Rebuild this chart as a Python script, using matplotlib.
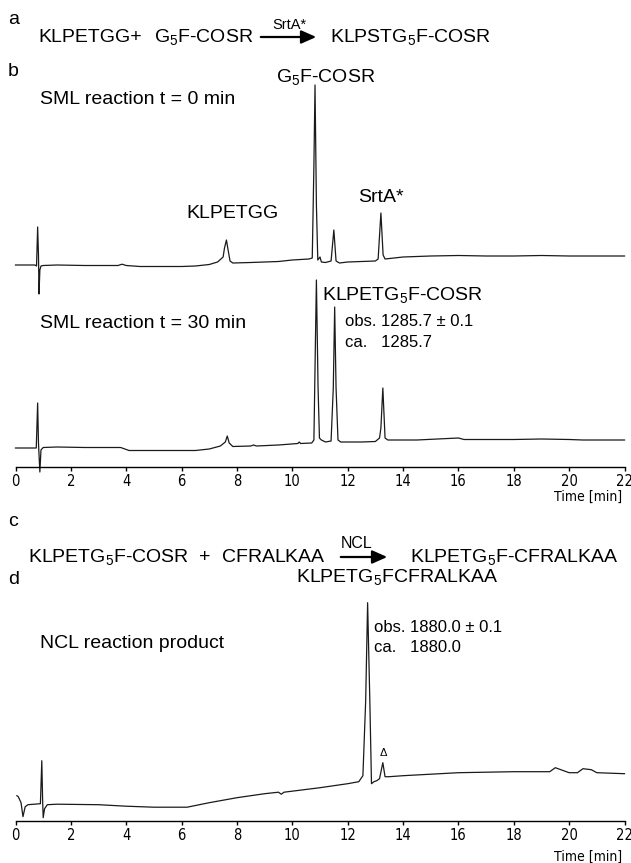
import matplotlib
matplotlib.use("Agg")
import matplotlib.pyplot as plt

plt.rcParams['font.family'] = ['Liberation Sans', 'DejaVu Sans']
plt.rcParams['mathtext.fontset'] = 'custom'
plt.rcParams['mathtext.rm'] = 'Liberation Sans'
plt.rcParams['mathtext.it'] = 'Liberation Sans'

W, H = 631, 863

# chromatogram b, t = 0 min (signal, arbitrary units)
t0_time = [0.0, 0.7, 0.76, 0.8, 0.83, 0.85, 0.88, 0.92, 1.0, 1.5, 2.5, 3.7, 3.85, 4.0,
           4.5, 6.0, 6.5, 7.0, 7.3, 7.5, 7.55, 7.62, 7.68, 7.75, 7.85, 8.5, 9.0, 9.5,
           10.0, 10.3, 10.6, 10.72, 10.78, 10.82, 10.87, 10.92, 11.0, 11.05, 11.2, 11.4,
           11.5, 11.58, 11.7, 12.0, 13.0, 13.1, 13.2, 13.28, 13.35, 14.0, 15.0, 16.0,
           17.0, 18.0, 19.0, 20.0, 21.0, 22.0]
t0_signal = [0, 0, -1, 38, 10, -29, -5, -1, -0.5, 0, -0.5, -0.5, 0.8, -0.5,
             -1.5, -1.5, -1, 0.5, 3, 8, 17, 25, 15, 4, 2, 2.5, 3, 3.5,
             5, 5.5, 6, 7, 100, 180, 60, 5, 8, 3, 2.5, 4,
             35, 4, 2, 3, 4, 6, 52, 10, 6, 8, 9, 9.5,
             9, 9, 9.5, 9, 9, 9]

# chromatogram b, t = 30 min
t30_time = [0.0, 0.75, 0.8, 0.83, 0.88, 0.92, 1.0, 1.5, 2.5, 3.8, 4.1, 6.5, 7.0, 7.4,
            7.58, 7.65, 7.72, 7.85, 8.5, 8.6, 8.7, 9.5, 10.2, 10.25, 10.3, 10.7, 10.78,
            10.82, 10.87, 10.93, 10.98, 11.05, 11.2, 11.4, 11.48, 11.53, 11.58, 11.65,
            11.75, 12.5, 13.0, 13.15, 13.2, 13.27, 13.35, 13.45, 14.5, 16.0, 16.2, 18.0,
            19.0, 20.0, 20.5, 22.0]
t30_signal = [0, 0, 45, 5, -24, -2, 0.5, 1, 0.5, 0.5, -2.5, -2.5, -1, 2,
              6, 12, 5, 1.5, 2, 3, 2, 3, 4.5, 6, 4.5, 5, 8,
              80, 168, 60, 10, 8, 6, 7, 60, 141, 60, 8,
              6, 6, 6.5, 10, 20, 60, 10, 8, 8, 10, 8.5, 8.5,
              9, 8.5, 8, 8]

# chromatogram d, NCL reaction product
ncl_time = [0.05, 0.1, 0.2, 0.27, 0.35, 0.45, 0.9, 0.95, 0.98, 1.0, 1.05, 1.15, 1.5,
            3.0, 4.0, 5.0, 6.2, 7.0, 8.0, 9.0, 9.5, 9.6, 9.7, 11.0, 12.0, 12.4, 12.55,
            12.65, 12.72, 12.8, 12.86, 12.95, 13.05, 13.15, 13.27, 13.35, 13.5, 14.0,
            16.0, 18.0, 19.3, 19.5, 19.7, 20.0, 20.3, 20.5, 20.8, 21.0, 22.0]
ncl_signal = [25, 24, 18, 4, 14, 16, 17, 60, 20, 3, 12, 16, 16.5,
              16, 14.5, 13.5, 13.5, 18, 23, 27, 28.5, 26.5, 28.5, 33, 37, 39, 45,
              120, 218, 120, 37, 39, 40, 42, 58, 44, 44, 45,
              48, 49, 49, 53, 51, 48, 48, 52, 51, 48, 47]

ticks = list(range(0, 23, 2))
offset_t0 = 202
offset_t30 = 19


def px(x, y):
    return x / W, 1 - y / H


def add_chrom_axes(y_spine, ylo, yhi):
    ax = fig.add_axes([15.5 / W, 1 - (y_spine - ylo) / H, 609 / W, (yhi - ylo) / H])
    ax.set_facecolor('none')
    ax.set_xlim(0, 22)
    ax.set_ylim(ylo, yhi)
    for s in ['top', 'right', 'left']:
        ax.spines[s].set_visible(False)
    ax.spines['bottom'].set_position(('data', 0))
    ax.spines['bottom'].set_linewidth(1.0)
    ax.set_yticks([])
    ax.set_xticks(ticks)
    ax.tick_params(axis='x', direction='out', length=3, width=1.0, pad=2)
    for lab in ax.get_xticklabels():
        lab.set_family('DejaVu Sans')
        lab.set_stretch('condensed')
        lab.set_fontsize(10.5)
    return ax


fig = plt.figure(figsize=(W / 100, H / 100), dpi=100)

ax_b = add_chrom_axes(467, -30, 400)
ax_b.plot(t0_time, [v + offset_t0 for v in t0_signal], color='#1a1a1a', lw=0.9, clip_on=False)
ax_b.plot(t30_time, [v + offset_t30 for v in t30_signal], color='#1a1a1a', lw=0.9, clip_on=False)

ax_d = add_chrom_axes(820.7, -30, 240)
ax_d.plot(ncl_time, ncl_signal, color='#1a1a1a', lw=0.9, clip_on=False)

fig.text(*px(622, 497), 'Time [min]', ha='right', va='center', fontsize=10,
         family='DejaVu Sans', stretch='condensed')
fig.text(*px(622, 857), 'Time [min]', ha='right', va='center', fontsize=10,
         family='DejaVu Sans', stretch='condensed')

fs = 14
# panel letters
fig.text(*px(8, 19), 'a', fontsize=fs, va='center')
fig.text(*px(8, 72), 'b', fontsize=fs, va='center')
fig.text(*px(8, 521), 'c', fontsize=fs, va='center')
fig.text(*px(8, 579), 'd', fontsize=fs, va='center')

# scheme a
fig.text(*px(38, 37), 'KLPETGG+', fontsize=fs, va='center')
fig.text(*px(154, 37), r'G$_\mathrm{5}$F-COSR', fontsize=fs, va='center')
fig.text(*px(330, 37), r'KLPSTG$_\mathrm{5}$F-COSR', fontsize=fs, va='center')
fig.text(*px(289, 25), 'SrtA*', fontsize=10.5, ha='center', va='center')
fig.add_artist(matplotlib.patches.FancyArrowPatch(px(258, 37), px(319, 37), transform=fig.transFigure,
                                                  arrowstyle='-|>,head_length=9,head_width=4',
                                                  mutation_scale=1, lw=1.6, color='black'))

# panel b labels
fig.text(*px(40, 99), 'SML reaction t = 0 min', fontsize=fs, va='center')
fig.text(*px(326, 77), r'G$_\mathrm{5}$F-COSR', fontsize=fs, ha='center', va='center')
fig.text(*px(232, 213), 'KLPETGG', fontsize=fs, ha='center', va='center')
fig.text(*px(381, 197), 'SrtA*', fontsize=fs, ha='center', va='center')
fig.text(*px(40, 323), 'SML reaction t = 30 min', fontsize=fs, va='center')
fig.text(*px(322, 295), r'KLPETG$_\mathrm{5}$F-COSR', fontsize=fs, va='center')
fig.text(*px(345, 322), u'obs. 1285.7 \u00b1 0.1', fontsize=12, va='center')
fig.text(*px(345, 342), 'ca.   1285.7', fontsize=12, va='center')

# scheme c
fig.text(*px(28, 557), r'KLPETG$_\mathrm{5}$F-COSR  +  CFRALKAA', fontsize=fs, va='center')
fig.text(*px(357, 544), 'NCL', fontsize=11.5, ha='center', va='center')
fig.add_artist(matplotlib.patches.FancyArrowPatch(px(338, 557), px(390, 557), transform=fig.transFigure,
                                                  arrowstyle='-|>,head_length=9,head_width=4',
                                                  mutation_scale=1, lw=1.6, color='black'))
fig.text(*px(410, 557), r'KLPETG$_\mathrm{5}$F-CFRALKAA', fontsize=fs, va='center')

# panel d labels
fig.text(*px(296, 577), r'KLPETG$_\mathrm{5}$FCFRALKAA', fontsize=fs, va='center')
fig.text(*px(40, 643), 'NCL reaction product', fontsize=fs, va='center')
fig.text(*px(374, 627), u'obs. 1880.0 \u00b1 0.1', fontsize=12, va='center')
fig.text(*px(374, 647), 'ca.   1880.0', fontsize=12, va='center')
fig.text(*px(383, 753), u'\u0394', fontsize=8, ha='center', va='center')

fig.savefig('out.png', dpi=100)
